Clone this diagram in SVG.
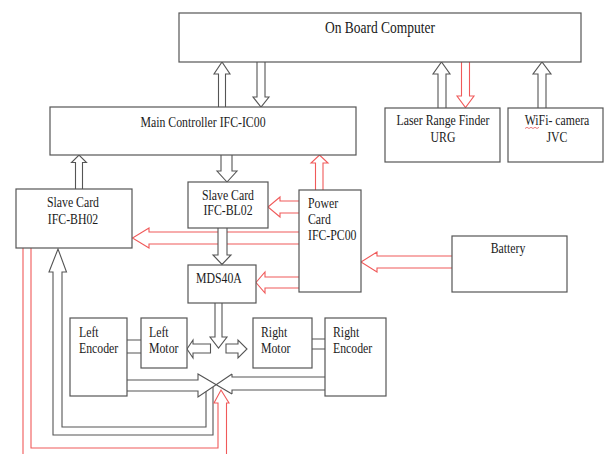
<svg xmlns="http://www.w3.org/2000/svg" width="609" height="454" viewBox="0 0 609 454">
<style>
.box{fill:#fff;stroke:#555;stroke-width:1.2}
.ar{fill:#fff;stroke:#555;stroke-width:1.1}
.rd{fill:#fff;stroke:#f05a5a;stroke-width:1.1}
.ln{fill:none;stroke:#555;stroke-width:1.1}
.rl{fill:none;stroke:#f05a5a;stroke-width:1.1}
.t{font-family:"Liberation Serif","Times New Roman",serif;font-size:11.8px;fill:#1a1a1a}
.m{text-anchor:middle}
</style>
<rect width="609" height="454" fill="#fff"/>
<g id="connectors">
<polyline class="ar" points="218.5,107 218.5,74 214,74 222,62 230,74 225.5,74 225.5,107"/>
<polyline class="ar" points="257,62 257,97 253,97 261,107 269,97 265,97 265,62"/>
<polyline class="ar" points="438,108 438,74 433,74 441.5,62 450,74 446,74 446,108"/>
<polyline class="rd" points="461.5,62 461.5,96 457,96 465.5,107.5 474,96 469.5,96 469.5,62"/>
<polyline class="ar" points="538,108 538,74 533,74 542,62 551,74 546,74 546,108"/>
<polyline class="ar" points="75.5,189 75.5,162.5 71.5,162.5 79,155 86.5,162.5 82.5,162.5 82.5,189"/>
<polyline class="ar" points="221,155 221,171 217,171 227,182 237,171 232,171 232,155"/>
<polyline class="rd" points="315.5,190 315.5,163 311,163 319.5,155 328,163 323,163 323,190"/>
<polyline class="rd" points="299,201 280,201 280,197 268,207 280,217 280,213 299,213"/>
<polyline class="rd" points="299,232 149,232 149,228 132.5,238 149,248 149,244 299,244"/>
<polyline class="ar" points="218,228 218,255 213,255 222,264.5 231,255 227,255 227,228"/>
<polyline class="rd" points="299,277 265,277 265,272 256,282.5 265,293 265,288 299,288"/>
<polyline class="rd" points="452,256 377,256 377,252 361,262 377,272 377,268 452,268"/>
<polyline class="ar" points="215,303 215,337 210,337 218.5,348 227,337 222,337 222,303"/>
<polygon class="ar" points="210.5,344 193,344 193,340 187,349 193,358 193,353 210.5,353"/>
<polygon class="ar" points="226,344 238,344 238,340 247,349 238,358 238,353 226,353"/>
<path class="ln" d="M127,340H141M127,353H141M312,339H325M312,349H325"/>
<path class="ln" d="M127,380H198V374L232,394M127,391H198V397L232,374M325,377H232V374M325,390H232V394"/>
<path class="ln" d="M213,387V435H53V272H49L58,249L66.5,272H62V427H206V391.5"/>
<path class="rl" d="M23,248V454M31,248V448H218V403H214L221,390L229,403H226.5V454"/>
</g>
<g id="obc"><rect class="box" x="179" y="13" width="402" height="49"/>
<text class="t m" transform="translate(380,33) scale(1,1.2)" style="font-size:13.5px">On Board Computer</text></g>
<g id="main"><rect class="box" x="50" y="107" width="306" height="48"/>
<text class="t m" transform="translate(203,127) scale(1,1.2)">Main Controller IFC-IC00</text></g>
<g id="laser"><rect class="box" x="385" y="108" width="115" height="54"/>
<text class="t m" transform="translate(443,125) scale(1,1.2)">Laser Range Finder</text>
<text class="t m" transform="translate(443,142) scale(1,1.2)">URG</text></g>
<g id="wifi"><rect class="box" x="508" y="108" width="95" height="54"/>
<text class="t m" transform="translate(557,125) scale(1,1.2)">WiFi- camera</text>
<path d="M525,128.5l2,-1.2l2,1.2l2,-1.2l2,1.2l2,-1.2l2,1.2l2,-1.2" fill="none" stroke="#e04040" stroke-width="0.7"/>
<text class="t m" transform="translate(557,142) scale(1,1.2)">JVC</text></g>
<g id="bh02"><rect class="box" x="16" y="189" width="116" height="59"/>
<text class="t m" transform="translate(73,207) scale(1,1.2)">Slave Card</text>
<text class="t m" transform="translate(73,224) scale(1,1.2)">IFC-BH02</text></g>
<g id="bl02"><rect class="box" x="188" y="182" width="80" height="46"/>
<text class="t m" transform="translate(228,200) scale(1,1.2)">Slave Card</text>
<text class="t m" transform="translate(228,215) scale(1,1.2)">IFC-BL02</text></g>
<g id="power"><rect class="box" x="299" y="190" width="62" height="102"/>
<text class="t" transform="translate(308,208) scale(1,1.2)">Power</text>
<text class="t" transform="translate(308,224) scale(1,1.2)">Card</text>
<text class="t" transform="translate(308,240) scale(1,1.2)">IFC-PC00</text></g>
<g id="battery"><rect class="box" x="452" y="236" width="115" height="56"/>
<text class="t m" transform="translate(508,253) scale(1,1.2)">Battery</text></g>
<g id="mds"><rect class="box" x="188" y="265" width="68" height="38"/>
<text class="t" transform="translate(196,283) scale(1,1.2)">MDS40A</text></g>
<g id="left-encoder"><rect class="box" x="70" y="318" width="57" height="78"/>
<text class="t" transform="translate(79,337) scale(1,1.2)">Left</text>
<text class="t" transform="translate(79,353) scale(1,1.2)">Encoder</text></g>
<g id="left-motor"><rect class="box" x="141" y="318" width="46" height="50"/>
<text class="t" transform="translate(149,337) scale(1,1.2)">Left</text>
<text class="t" transform="translate(149,353) scale(1,1.2)">Motor</text></g>
<g id="right-motor"><rect class="box" x="253" y="318" width="59" height="50"/>
<text class="t" transform="translate(261,337) scale(1,1.2)">Right</text>
<text class="t" transform="translate(261,353) scale(1,1.2)">Motor</text></g>
<g id="right-encoder"><rect class="box" x="325" y="318" width="61" height="78"/>
<text class="t" transform="translate(333,337) scale(1,1.2)">Right</text>
<text class="t" transform="translate(333,353) scale(1,1.2)">Encoder</text></g>
</svg>
